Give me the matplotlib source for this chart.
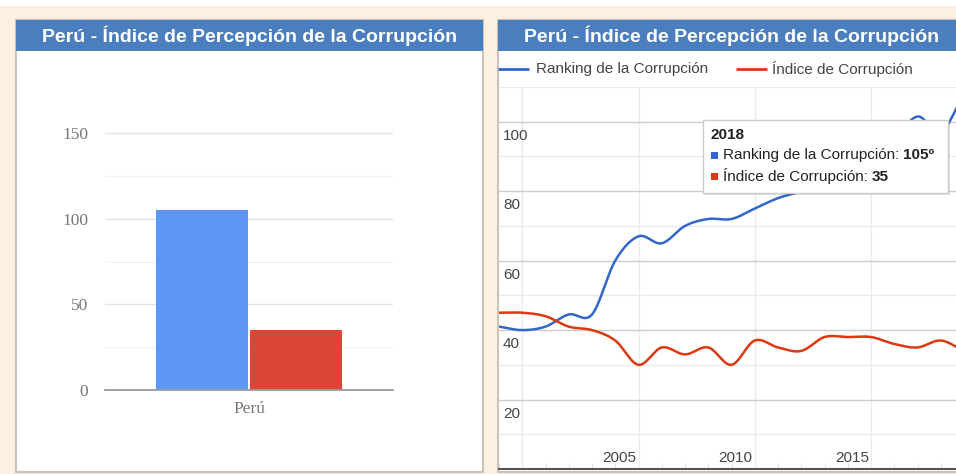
import matplotlib.pyplot as plt
import numpy as np
from matplotlib.patches import Rectangle

# --- data ---
title = "Perú - Índice de Percepción de la Corrupción"
series_names = ["Ranking de la Corrupción", "Índice de Corrupción"]
bar_category = "Perú"
bar_values = [105, 35]

years = list(range(2000, 2021))
ranking = [41, 40, 41, 44.5, 44.5, 60, 67, 65, 70, 72, 72, 75, 78, 80,
           83, 85, 89, 95, 101.5, 97, 108]
indice = [45, 45, 44, 41, 40, 37, 30, 35, 33, 35, 30, 37, 35, 34,
          38, 38, 38, 36, 35, 37, 34]

tooltip_year = 2018
x_label_years = [2005, 2010, 2015]

W, H = 956, 474
CREAM = "#fdf0e1"
HEADER = "#4a7ebf"
BORDER = "#cbc3ba"
BAR_COLORS = ["#5e96f5", "#db4437"]
LINE_COLORS = ["#3366cc", "#dc3912"]
SANS = "Liberation Sans"
SERIF = "Liberation Serif"


def rect(x0, y0, x1, y1):
    # pixel box (top-left origin) -> figure fraction rect
    return [x0 / W, 1 - y1 / H, (x1 - x0) / W, (y1 - y0) / H]


def smooth(xs, ys, n=24):
    xs = np.asarray(xs, float)
    ys = np.asarray(ys, float)
    m = np.gradient(ys, xs)
    out_x, out_y = [], []
    t = np.linspace(0, 1, n, endpoint=False)
    h00 = 2 * t**3 - 3 * t**2 + 1
    h10 = t**3 - 2 * t**2 + t
    h01 = -2 * t**3 + 3 * t**2
    h11 = t**3 - t**2
    for i in range(len(xs) - 1):
        h = xs[i + 1] - xs[i]
        out_x.append(xs[i] + t * h)
        out_y.append(h00 * ys[i] + h10 * h * m[i] + h01 * ys[i + 1] + h11 * h * m[i + 1])
    out_x.append([xs[-1]])
    out_y.append([ys[-1]])
    return np.concatenate(out_x), np.concatenate(out_y)


fig = plt.figure(figsize=(W / 100, H / 100), dpi=100)
fig.patch.set_facecolor(CREAM)

# background layer in pixel coordinates
bg = fig.add_axes([0, 0, 1, 1], zorder=0)
bg.set_xlim(0, W)
bg.set_ylim(H, 0)
bg.axis("off")
bg.add_patch(Rectangle((0, 0), W, 6, facecolor="white", edgecolor="none"))

for x0 in (16, 498):
    bg.add_patch(Rectangle((x0, 20), 467, 452, facecolor="white",
                           edgecolor=BORDER, lw=1.5))
    bg.add_patch(Rectangle((x0, 20), 467, 31, facecolor=HEADER, edgecolor="none"))
    bg.text(x0 + 233.5, 36, title, color="white", fontsize=14, fontweight="bold",
            family=SANS, ha="center", va="center")

# legend of the line chart
for (lx, tx), name, col in zip([(498, 536), (736, 772)], series_names, LINE_COLORS):
    bg.plot([lx, lx + 31], [69, 69], color=col, lw=2, solid_capstyle="butt")
    bg.text(tx, 69, name, fontsize=11, family=SANS, color="#444444", va="center")

# --- bar chart ---
ax1 = fig.add_axes(rect(105, 116, 393, 390), zorder=1)
ax1.patch.set_visible(False)
ax1.set_xlim(-0.5, 0.5)
ax1.set_ylim(0, 160)
bw = 0.32
offsets = [-bw / 2 - 0.004, bw / 2 + 0.004]
for off, val, col in zip(offsets, bar_values, BAR_COLORS):
    ax1.bar(off, val, width=bw, color=col, edgecolor="none", zorder=3)
ax1.set_yticks([0, 50, 100, 150])
ax1.set_yticks([25, 75, 125], minor=True)
ax1.yaxis.grid(True, which="major", color="#e3e3e3", lw=1)
ax1.yaxis.grid(True, which="minor", color="#f3f3f3", lw=1)
ax1.set_axisbelow(True)
ax1.set_xticks([0])
ax1.set_xticklabels([bar_category])
for s in ("top", "right", "left"):
    ax1.spines[s].set_visible(False)
ax1.spines["bottom"].set_color("#9a9a9a")
ax1.spines["bottom"].set_linewidth(1.3)
ax1.spines["bottom"].set_zorder(4)
ax1.tick_params(axis="both", which="both", length=0, colors="#777777", labelsize=12.5)
ax1.tick_params(axis="y", pad=12)
ax1.tick_params(axis="x", pad=8)
for lab in ax1.get_xticklabels() + ax1.get_yticklabels():
    lab.set_family(SERIF)

# --- line chart ---
ax2 = fig.add_axes(rect(499, 87, 964, 469), zorder=1)
ax2.patch.set_visible(False)
ax2.set_xlim(years[0], years[-1])
ax2.set_ylim(0, 110)
ax2.set_yticks([20, 40, 60, 80, 100])
ax2.set_yticks([10, 30, 50, 70, 90, 110], minor=True)
ax2.set_xticks(range(2001, 2021, 5))
ax2.set_xticks(years, minor=True)
ax2.yaxis.grid(True, which="major", color="#cccccc", lw=1)
ax2.yaxis.grid(True, which="minor", color="#ebebeb", lw=1)
ax2.xaxis.grid(True, which="major", color="#ebebeb", lw=1)
ax2.set_axisbelow(True)
ax2.set_xticklabels([])
ax2.set_yticklabels([])
ax2.tick_params(axis="y", which="both", length=0)
ax2.tick_params(axis="x", which="major", length=0)
ax2.tick_params(axis="x", which="minor", direction="in", length=4, color="#dddddd")
for s in ("top", "right", "left"):
    ax2.spines[s].set_visible(False)
ax2.spines["bottom"].set_color("#555555")
ax2.spines["bottom"].set_linewidth(1.5)

for vals, col in zip([ranking, indice], LINE_COLORS):
    sx, sy = smooth(years, vals)
    ax2.plot(sx, sy, color=col, lw=1.8, solid_capstyle="round", zorder=3)

for v in [20, 40, 60, 80, 100]:
    ax2.annotate(str(v), xy=(0, v), xycoords=ax2.get_yaxis_transform(),
                 xytext=(4, -7), textcoords="offset pixels", ha="left", va="top",
                 fontsize=11, family=SANS, color="#444444")
for yr in x_label_years:
    ax2.annotate(str(yr), xy=(yr, 0), xycoords="data", xytext=(4, 4),
                 textcoords="offset pixels", ha="center", va="bottom",
                 fontsize=11, family=SANS, color="#444444", annotation_clip=False)

# --- tooltip overlay ---
ov = fig.add_axes([0, 0, 1, 1], zorder=10)
ov.set_xlim(0, W)
ov.set_ylim(H, 0)
ov.axis("off")
ov.add_patch(Rectangle((704, 121), 246, 74, facecolor="#000000", alpha=0.12,
                       edgecolor="none"))
ov.add_patch(Rectangle((703, 120), 245, 73, facecolor="white", edgecolor="#cccccc", lw=1))
ov.text(711, 135, str(tooltip_year), fontsize=11, fontweight="bold", family=SANS,
        color="#222222", va="center")
for yy, name, val, col in zip([155, 176], series_names,
                              [f"{bar_values[0]}º", f"{bar_values[1]}"], LINE_COLORS):
    ov.add_patch(Rectangle((711, yy - 3.5), 7, 7, facecolor=col, edgecolor="none"))
    t1 = ov.text(723, yy, f"{name}: ", fontsize=11, family=SANS, color="#222222",
                 va="center")
    ov.annotate(val, xy=(1, 0), xycoords=t1, ha="left", va="bottom", fontsize=11,
                fontweight="bold", family=SANS, color="#222222")

fig.savefig("out.png", dpi=100, facecolor=fig.get_facecolor())
